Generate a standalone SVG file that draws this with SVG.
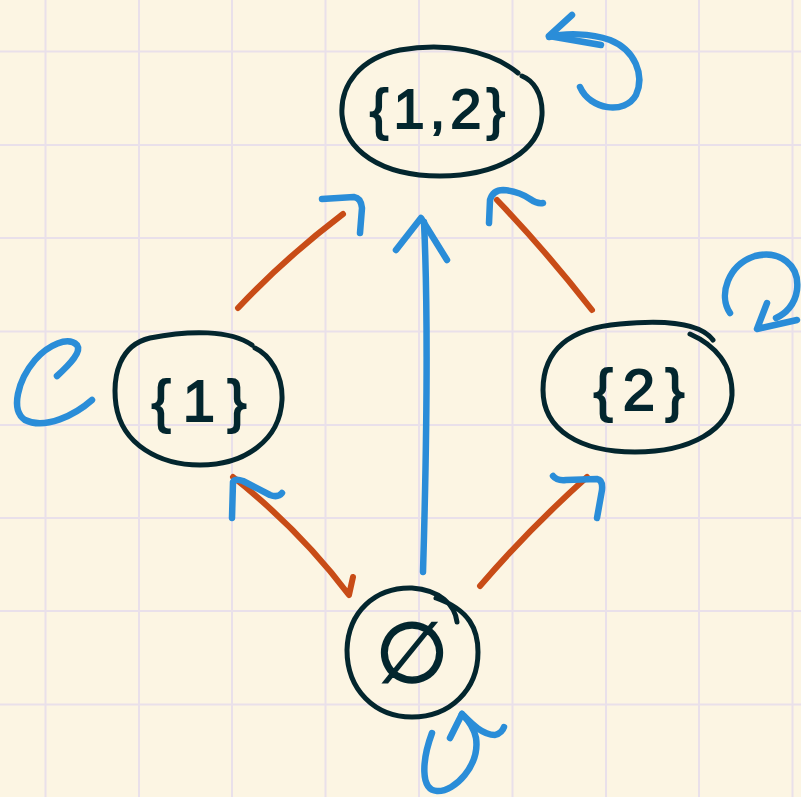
<svg xmlns="http://www.w3.org/2000/svg" width="801" height="797" viewBox="0 0 801 797">
<defs>
<style>
.grid line{stroke:#e9e0ea;stroke-width:2}
.node path{fill:none;stroke:#03262e;stroke-width:5;stroke-linecap:round;stroke-linejoin:round}
.node text{font-family:"Liberation Sans","DejaVu Sans",sans-serif;fill:#03262e;stroke:#03262e;stroke-width:1.8;text-anchor:middle}
.or{fill:none;stroke:#c84c17;stroke-width:6;stroke-linecap:round;stroke-linejoin:round}
.bl{fill:none;stroke:#2a8dd8;stroke-width:6.5;stroke-linecap:round;stroke-linejoin:round}
</style>
</defs>
<rect width="801" height="797" fill="#fcf5e3"/>
<g class="grid">
<line x1="45.5" y1="0" x2="45.5" y2="797"/>
<line x1="139" y1="0" x2="139" y2="797"/>
<line x1="232" y1="0" x2="232" y2="797"/>
<line x1="325.5" y1="0" x2="325.5" y2="797"/>
<line x1="419" y1="0" x2="419" y2="797"/>
<line x1="512.5" y1="0" x2="512.5" y2="797"/>
<line x1="606" y1="0" x2="606" y2="797"/>
<line x1="699" y1="0" x2="699" y2="797"/>
<line x1="792.5" y1="0" x2="792.5" y2="797"/>
<line x1="0" y1="51.5" x2="801" y2="51.5"/>
<line x1="0" y1="145" x2="801" y2="145"/>
<line x1="0" y1="238" x2="801" y2="238"/>
<line x1="0" y1="331.5" x2="801" y2="331.5"/>
<line x1="0" y1="425" x2="801" y2="425"/>
<line x1="0" y1="518" x2="801" y2="518"/>
<line x1="0" y1="611" x2="801" y2="611"/>
<line x1="0" y1="704.5" x2="801" y2="704.5"/>
</g>
<g id="connectors">
<path class="or" d="M238 308 Q285 258 343 214"/>
<path class="bl" d="M322 199 L354 197 Q361 198 362 208 L360 233"/>
<path class="or" d="M497 200 Q545 250 592 310"/>
<path class="bl" d="M489 223 L490 200 Q493 190 503 190 Q518 191 530 199 Q537 204 543 203"/>
<path class="or" d="M233 477 Q300 530 349 595 L353 577"/>
<path class="bl" d="M232 518 L233 482 Q235 478 243 481 L270 495 Q278 498 282 493"/>
<path class="or" d="M480 586 Q530 528 587 477"/>
<path class="bl" d="M553 476 Q557 481 566 480 L597 479 Q603 480 602 490 L597 518"/>
<path class="bl" d="M423 572 C426 470 429 330 424 222" stroke-width="5.5"/>
<path class="bl" d="M396 250 L421 218 L447 260" stroke-width="5.5"/>
<path class="bl" d="M580 87 C590 110 625 115 636 95 C645 75 635 50 610 40 C590 33 565 33 549 37"/>
<path class="bl" d="M572 15 L549 36 L601 45"/>
<path class="bl" d="M92 400 C75 415 45 430 25 420 C10 410 18 380 35 360 C48 345 68 336 77 345 C82 352 70 364 57 376"/>
<path class="bl" d="M730 313 C718 295 728 265 755 256 C780 250 800 265 797 290 C795 305 785 314 776 318"/>
<path class="bl" d="M767 303 L757 329 L797 320"/>
<path class="bl" d="M432 733 C422 760 420 790 437 791 C455 792 480 765 476 738 C474 728 468 720 462 714"/>
<path class="bl" d="M450 738 L462 714 C470 722 482 735 495 735 Q502 733 504 727"/>
</g>
<g id="node-12" class="node">
<path d="M518 73 C490 50 445 42 400 50 C360 58 340 85 342 115 C345 150 380 176 440 176 C500 176 540 150 542 115 C543 92 532 80 522 76"/>
<text x="440" y="128" font-size="56" letter-spacing="5">{1,2}</text>
</g>
<g id="node-1" class="node">
<path d="M252 345 C230 330 190 330 150 338 C120 345 112 375 116 405 C122 445 160 465 200 465 C245 465 280 440 282 400 C283 375 270 355 255 348"/>
<text x="205" y="421" font-size="58" letter-spacing="12">{1}</text>
</g>
<g id="node-2" class="node">
<path d="M713 340 C700 322 660 320 620 324 C570 328 543 350 543 390 C543 430 580 452 635 452 C690 452 730 430 732 395 C733 365 715 345 690 334"/>
<text x="644" y="410" font-size="58" letter-spacing="10">{2}</text>
</g>
<g id="node-empty" class="node">
<path d="M457 622 C455 605 440 590 412 588 C375 587 348 612 347 650 C347 690 375 717 412 717 C450 717 478 690 478 652 C478 630 470 610 436 598"/>
<text x="412" y="682" font-size="84" font-family="DejaVu Sans, sans-serif">∅</text>
</g>
</svg>
